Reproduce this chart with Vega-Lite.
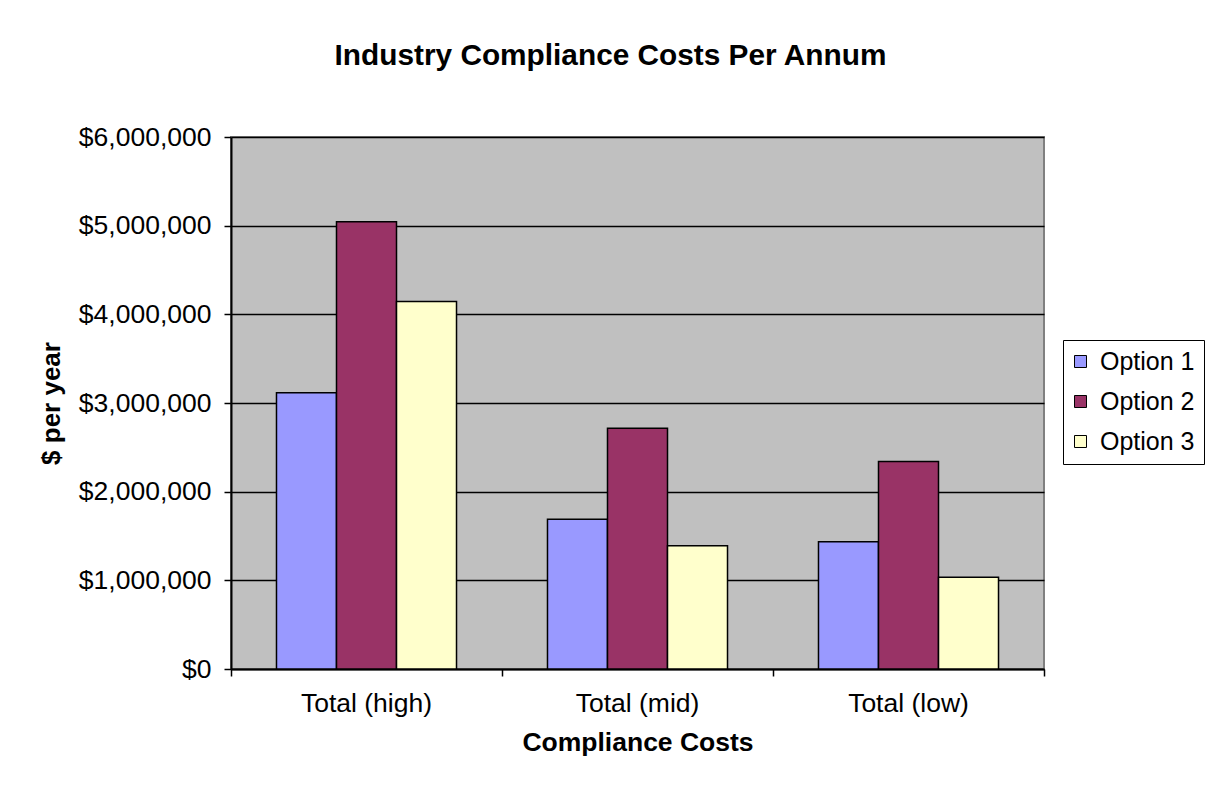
{
  "$schema": "https://vega.github.io/schema/vega-lite/v6.json",
  "autosize": {"type": "none"},
  "padding": {"left": 231, "top": 137, "right": 162, "bottom": 118},
  "width": 813,
  "height": 532,
  "background": "white",
  "title": {
    "text": "Industry Compliance Costs Per Annum",
    "anchor": "middle",
    "frame": "group",
    "dx": -27,
    "offset": 53,
    "font": "Liberation Sans",
    "fontSize": 29.8,
    "fontWeight": "bold",
    "color": "black"
  },
  "data": {
    "values": [
      {"category": "Total (high)", "option": "Option 1", "value": 3115000},
      {"category": "Total (high)", "option": "Option 2", "value": 5045000},
      {"category": "Total (high)", "option": "Option 3", "value": 4145000},
      {"category": "Total (mid)", "option": "Option 1", "value": 1690000},
      {"category": "Total (mid)", "option": "Option 2", "value": 2715000},
      {"category": "Total (mid)", "option": "Option 3", "value": 1390000},
      {"category": "Total (low)", "option": "Option 1", "value": 1435000},
      {"category": "Total (low)", "option": "Option 2", "value": 2340000},
      {"category": "Total (low)", "option": "Option 3", "value": 1035000}
    ]
  },
  "mark": {"type": "bar", "stroke": "black", "strokeWidth": 1.5},
  "encoding": {
    "x": {
      "field": "category",
      "type": "nominal",
      "sort": ["Total (high)", "Total (mid)", "Total (low)"],
      "scale": {"paddingInner": 0, "paddingOuter": 0},
      "axis": {
        "title": "Compliance Costs",
        "labelAngle": 0,
        "bandPosition": 1,
        "tickExtra": true,
        "tickSize": 7,
        "tickWidth": 1.5,
        "tickColor": "black",
        "domainColor": "black",
        "domainWidth": 2,
        "labelFont": "Liberation Sans",
        "labelFontSize": 26.5,
        "labelColor": "black",
        "labelPadding": 14,
        "titleFont": "Liberation Sans",
        "titleFontSize": 26.5,
        "titleFontWeight": "bold",
        "titleColor": "black",
        "titlePadding": 13
      }
    },
    "xOffset": {
      "field": "option",
      "type": "nominal",
      "scale": {"paddingInner": 0, "paddingOuter": 0.758}
    },
    "y": {
      "field": "value",
      "type": "quantitative",
      "scale": {"domain": [0, 6000000], "nice": false},
      "axis": {
        "title": "$ per year",
        "values": [0, 1000000, 2000000, 3000000, 4000000, 5000000, 6000000],
        "format": "$,.0f",
        "grid": true,
        "gridColor": "black",
        "gridWidth": 1.5,
        "gridOpacity": 1,
        "tickSize": 7,
        "tickWidth": 1.5,
        "tickColor": "black",
        "domainColor": "black",
        "domainWidth": 2,
        "labelFont": "Liberation Sans",
        "labelFontSize": 26.5,
        "labelColor": "black",
        "labelPadding": 13,
        "titleFont": "Liberation Sans",
        "titleFontSize": 26,
        "titleFontWeight": "bold",
        "titleColor": "black",
        "titlePadding": 14
      }
    },
    "color": {
      "field": "option",
      "type": "nominal",
      "scale": {
        "domain": ["Option 1", "Option 2", "Option 3"],
        "range": ["#9999FF", "#993366", "#FFFFCC"]
      },
      "legend": {
        "title": null,
        "orient": "none",
        "legendX": 832,
        "legendY": 203,
        "fillColor": "white",
        "strokeColor": "black",
        "padding": 9,
        "rowPadding": 14,
        "symbolType": "square",
        "symbolSize": 144,
        "symbolOffset": -4,
        "symbolStrokeColor": "black",
        "symbolStrokeWidth": 1,
        "symbolOpacity": 1,
        "labelOffset": 7,
        "labelFont": "Liberation Sans",
        "labelFontSize": 25,
        "labelColor": "black"
      }
    }
  },
  "config": {
    "view": {"fill": "#C0C0C0", "stroke": "#808080", "strokeWidth": 2}
  }
}
